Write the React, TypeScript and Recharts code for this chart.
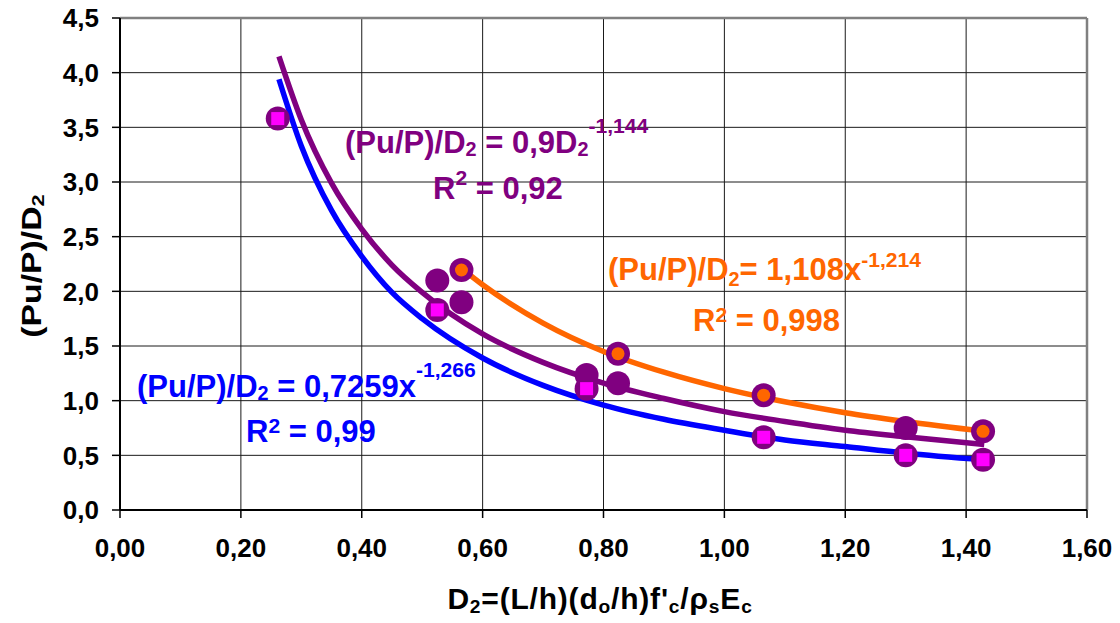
import React from "react";
import {
  ComposedChart,
  Line,
  Scatter,
  XAxis,
  YAxis,
  CartesianGrid,
  ReferenceLine,
} from "recharts";

// axis ticks
const xTicks = [0, 0.2, 0.4, 0.6, 0.8, 1.0, 1.2, 1.4, 1.6];
const yTicks = [0, 0.5, 1.0, 1.5, 2.0, 2.5, 3.0, 3.5, 4.0, 4.5];

// measured points (magenta squares, blue fit)
const squareX = [0.261, 0.525, 0.772, 1.065, 1.3, 1.428];
const squareY = [3.58, 1.83, 1.11, 0.665, 0.5, 0.46];

// measured points (orange fit)
const orangeX = [0.565, 0.824, 1.065, 1.428];
const orangeY = [2.195, 1.43, 1.05, 0.72];

// remaining measured points (purple circles only)
const extraX = [0.525, 0.565, 0.772, 0.824, 1.3];
const extraY = [2.1, 1.9, 1.235, 1.16, 0.75];

// trendlines
const fitX = [0.263, 0.3, 0.35, 0.4, 0.45, 0.5, 0.6, 0.7, 0.8, 0.9, 1.0, 1.1, 1.2, 1.3, 1.43];
const blueFit = [3.94, 3.33, 2.74, 2.32, 1.99, 1.75, 1.39, 1.14, 0.96, 0.83, 0.73, 0.64, 0.58, 0.52, 0.46];
const purpleFit = [4.15, 3.57, 2.99, 2.57, 2.24, 1.99, 1.61, 1.35, 1.16, 1.02, 0.9, 0.81, 0.73, 0.67, 0.6];
const orangeFitX = [0.565, 0.6, 0.7, 0.8, 0.9, 1.0, 1.1, 1.2, 1.3, 1.43];
const orangeFit = [2.21, 2.06, 1.71, 1.45, 1.26, 1.11, 0.99, 0.89, 0.81, 0.72];

const BLUE = "#0000ff";
const PURPLE = "#800080";
const ORANGE = "#ff6600";
const MAGENTA = "#ff00ff";
const FONT = "'Liberation Sans', Arial, sans-serif";

const zip = (xs: number[], ys: number[]) => xs.map((x, i) => ({ x, y: ys[i] }));

const squares = zip(squareX, squareY);
const oranges = zip(orangeX, orangeY);
const circles = [...squares, ...oranges, ...zip(extraX, extraY)];
const blueLine = zip(fitX, blueFit);
const purpleLine = zip(fitX, purpleFit);
const orangeLine = zip(orangeFitX, orangeFit);

const comma = (v: number, d: number) => v.toFixed(d).replace(".", ",");

const tickStyle = { fontSize: 26, fontWeight: "bold", fill: "#000", fontFamily: FONT };

const Sup = ({ children, raise }: { children: React.ReactNode; raise: number }) => (
  <span style={{ fontSize: "0.68em", position: "relative", top: -raise }}>{children}</span>
);
const Sub = ({ children, drop }: { children: React.ReactNode; drop: number }) => (
  <span style={{ fontSize: "0.64em", position: "relative", top: drop }}>{children}</span>
);

const Note = ({ left, baseline, color, size = 31, children }: any) => (
  <div
    style={{
      position: "absolute",
      left,
      top: baseline - 0.8465 * size,
      fontSize: size,
      lineHeight: `${size}px`,
      fontWeight: "bold",
      color,
      whiteSpace: "nowrap",
      fontFamily: FONT,
    }}
  >
    {children}
  </div>
);

export default function App() {
  return (
    <div style={{ position: "relative", width: 1120, height: 623, margin: -8, background: "#fff" }}>
      <ComposedChart width={1120} height={623} margin={{ top: 18, right: 33, bottom: 0, left: 0 }}>
        <CartesianGrid stroke="#1a1a1a" strokeWidth={1} />
        <XAxis
          type="number"
          dataKey="x"
          domain={[0, 1.6]}
          ticks={xTicks}
          interval={0}
          height={113}
          tickSize={8}
          tickMargin={21}
          tickFormatter={(v: number) => comma(v, 2)}
          tick={tickStyle}
          axisLine={{ stroke: "#000", strokeWidth: 2 }}
          tickLine={{ stroke: "#000", strokeWidth: 1.5 }}
          allowDataOverflow
        />
        <YAxis
          type="number"
          dataKey="y"
          domain={[0, 4.5]}
          ticks={yTicks}
          interval={0}
          width={120}
          tickSize={8}
          tickMargin={13}
          tickFormatter={(v: number) => comma(v, 1)}
          tick={tickStyle}
          axisLine={{ stroke: "#000", strokeWidth: 2 }}
          tickLine={{ stroke: "#000", strokeWidth: 1.5 }}
          allowDataOverflow
        />
        <ReferenceLine y={4.5} stroke="#808080" strokeWidth={2.5} />
        <ReferenceLine x={1.6} stroke="#808080" strokeWidth={2.5} />

        <Scatter
          data={circles}
          dataKey="y"
          isAnimationActive={false}
          shape={(p: any) => <circle cx={p.cx} cy={p.cy} r={12} fill={PURPLE} />}
        />
        <Scatter
          data={squares}
          dataKey="y"
          isAnimationActive={false}
          shape={(p: any) => <rect x={p.cx - 6.5} y={p.cy - 6.5} width={13} height={13} fill={MAGENTA} />}
        />
        <Line data={blueLine} dataKey="y" type="monotone" stroke={BLUE} strokeWidth={5.5} dot={false} isAnimationActive={false} />
        <Line data={purpleLine} dataKey="y" type="monotone" stroke={PURPLE} strokeWidth={5.5} dot={false} isAnimationActive={false} />
        <Line data={orangeLine} dataKey="y" type="monotone" stroke={ORANGE} strokeWidth={5.5} dot={false} isAnimationActive={false} />
        <Scatter
          data={oranges}
          dataKey="y"
          isAnimationActive={false}
          shape={(p: any) => <circle cx={p.cx} cy={p.cy} r={6.5} fill={ORANGE} />}
        />
      </ComposedChart>

      <Note left={345} baseline={153} color={PURPLE}>
        (Pu/P)/D<Sub drop={3}>2</Sub> = 0,9D<Sub drop={3}>2</Sub>
        <Sup raise={20}>-1,144</Sup>
      </Note>
      <Note left={433} baseline={199} color={PURPLE}>
        R<Sup raise={14}>2</Sup> = 0,92
      </Note>

      <Note left={608} baseline={280} color={ORANGE}>
        (Pu/P)/D<Sub drop={6}>2</Sub>= 1,108x<Sup raise={13}>-1,214</Sup>
      </Note>
      <Note left={693} baseline={331} color={ORANGE}>
        R<Sup raise={9}>2</Sup> = 0,998
      </Note>

      <Note left={137} baseline={397} color={BLUE}>
        (Pu/P)/D<Sub drop={3}>2</Sub> = 0,7259x<Sup raise={20}>-1,266</Sup>
      </Note>
      <Note left={246} baseline={442} color={BLUE}>
        R<Sup raise={9}>2</Sup> = 0,99
      </Note>

      {/* x axis title */}
      <div
        style={{
          position: "absolute",
          left: 600,
          top: 609 - 0.8465 * 30,
          transform: "translateX(-50%)",
          fontSize: 30,
          lineHeight: "30px",
          fontWeight: "bold",
          whiteSpace: "nowrap",
          fontFamily: FONT,
          letterSpacing: 0.8,
        }}
      >
        D<Sub drop={4}>2</Sub>=(L/h)(d<Sub drop={4}>o</Sub>/h)f'<Sub drop={4}>c</Sub>/ρ<Sub drop={4}>s</Sub>E
        <Sub drop={4}>c</Sub>
      </div>

      {/* y axis title */}
      <div
        style={{
          position: "absolute",
          left: 34,
          top: 266,
          transform: "translate(-50%, -50%) rotate(-90deg) scaleX(1.25)",
          fontSize: 27,
          lineHeight: "27px",
          fontWeight: "bold",
          whiteSpace: "nowrap",
          fontFamily: FONT,
        }}
      >
        (Pu/P)/D<Sub drop={3}>2</Sub>
      </div>
    </div>
  );
}
